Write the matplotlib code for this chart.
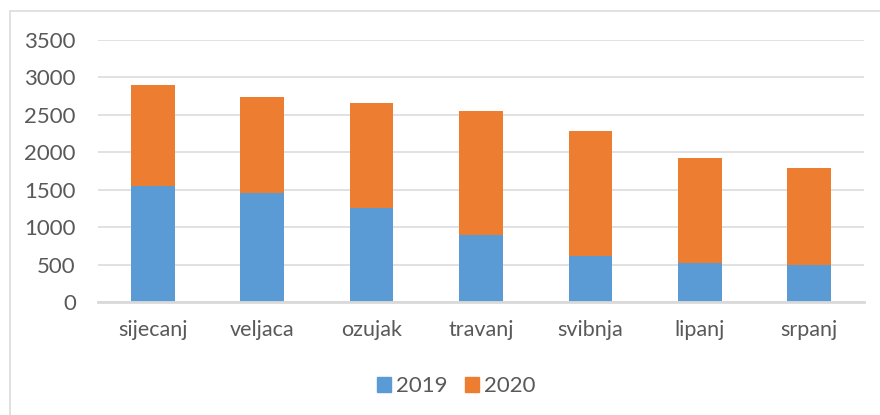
import matplotlib.pyplot as plt
from matplotlib.patches import Rectangle, Patch

months = ['sijecanj', 'veljaca', 'ozujak', 'travanj', 'svibnja', 'lipanj', 'srpanj']
v2019 = [1555, 1450, 1260, 890, 620, 515, 490]
v2020 = [1345, 1295, 1395, 1665, 1660, 1415, 1300]

blue = '#5B9BD5'
orange = '#ED7D31'
grey = '#D9D9D9'
txt = '#595959'

plt.rcParams['font.family'] = ['Lato', 'DejaVu Sans']

W, H = 880, 415
fig = plt.figure(figsize=(W / 100, H / 100), dpi=100)

# outer chart border (runs off the right and bottom edges)
fig.patches.append(Rectangle((9.5 / W, -0.1), 2, 1.1 - 11 / H, transform=fig.transFigure,
                             fill=False, edgecolor=grey, lw=1.1))

ax = fig.add_axes([98 / W, (H - 302) / H, 766 / W, 262 / H])
x = range(len(months))
ax.bar(x, v2019, width=0.4, color=blue, zorder=3)
ax.bar(x, v2020, width=0.4, bottom=v2019, color=orange, zorder=3)

ax.set_xlim(-0.5, len(months) - 0.5)
ax.set_ylim(0, 3500)
ax.set_yticks(range(0, 3501, 500))
ax.set_xticks(list(x))
ax.set_xticklabels(months)
ax.yaxis.grid(True, color=grey, lw=1.1, zorder=0)
ax.set_axisbelow(True)

for s in ['top', 'right', 'left']:
    ax.spines[s].set_visible(False)
ax.spines['bottom'].set_color(grey)
ax.spines['bottom'].set_linewidth(2)
ax.spines['bottom'].set_zorder(4)

ax.tick_params(axis='y', length=0, pad=16, labelsize=16, labelcolor=txt)
ax.tick_params(axis='x', length=0, pad=13, labelsize=15.5, labelcolor=txt)

handles = [Patch(color=blue, label='2019'), Patch(color=orange, label='2020')]
fig.legend(handles=handles, loc='center', bbox_to_anchor=(456 / W, 1 - 386 / H), ncol=2,
           frameon=False, fontsize=16, labelcolor=txt, handlelength=0.65, handleheight=0.65,
           handletextpad=0.2, columnspacing=0.8)

fig.savefig('out.png', dpi=100)
